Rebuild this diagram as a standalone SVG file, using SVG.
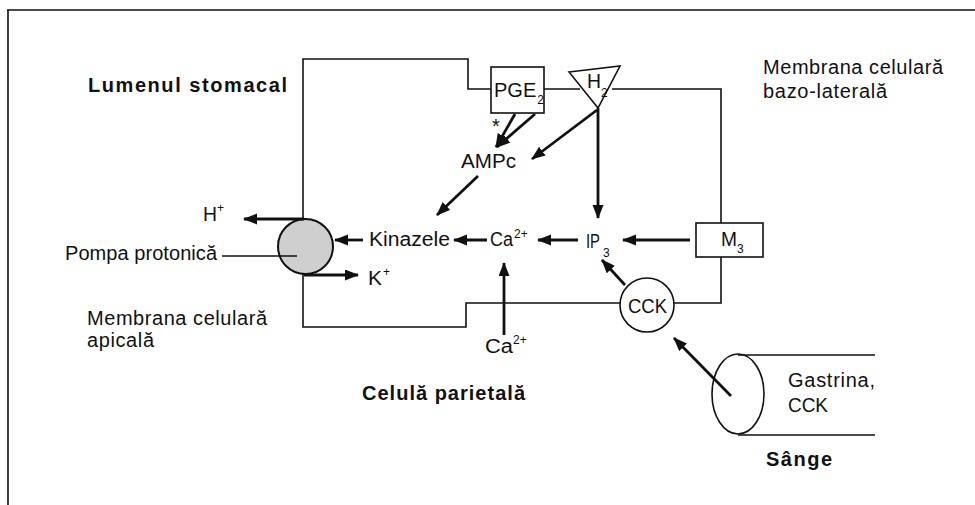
<svg xmlns="http://www.w3.org/2000/svg" width="975" height="505" viewBox="0 0 975 505">
<style>
text{font-family:"Liberation Sans",Arial,sans-serif;fill:#111;font-size:20px}
.b{font-weight:bold}
.sub{font-size:12px}
.thin{fill:none;stroke:#111;stroke-width:1.6}
.arr{fill:none;stroke:#111;stroke-width:2.8;marker-end:url(#ah)}
</style>
<defs>
<marker id="ah" markerUnits="userSpaceOnUse" markerWidth="14" markerHeight="12" refX="13" refY="5.5" orient="auto">
<path d="M0,0 L14,5.5 L0,11 z" fill="#111"/>
</marker>
</defs>
<rect width="975" height="505" fill="#fff"/>
<g id="frame">
<path class="thin" d="M7,10 L975,10 M8,10 L8,505" stroke-width="2"/>
</g>
<g id="cell">
<path class="thin" d="M491,89 L468,89 L468,59 L303,59 L303,219 M303,274 L303,327 L466,327 L466,303 L620,303 M673,303 L721,303 L721,257 M721,223 L721,89 L612,89 M580,89 L544,89"/>
</g>
<g id="labels">
<text class="b" x="88" y="92" textLength="199" lengthAdjust="spacing">Lumenul stomacal</text>
<text x="763" y="74" textLength="180" lengthAdjust="spacing">Membrana celulară</text>
<text x="763" y="98" textLength="124" lengthAdjust="spacing">bazo-laterală</text>
<text x="87" y="325" textLength="180" lengthAdjust="spacing">Membrana celulară</text>
<text x="87" y="347" textLength="67" lengthAdjust="spacing">apicală</text>
<text class="b" x="362" y="400" textLength="163" lengthAdjust="spacing">Celulă parietală</text>
<text class="b" x="766" y="466" textLength="66" lengthAdjust="spacing">Sânge</text>
</g>
<g id="pge2">
<rect x="491" y="67" width="53" height="46" fill="#fff" stroke="#111" stroke-width="1.6"/>
<text x="494" y="97" font-size="17">PGE<tspan class="sub" dx="1" dy="7">2</tspan></text>
</g>
<g id="h2">
<path d="M569,72 L620,66 L598,108 z" fill="#fff" stroke="#111" stroke-width="1.6"/>
<text x="587" y="88" textLength="14" lengthAdjust="spacingAndGlyphs">H</text>
<text class="sub" x="601" y="97">2</text>
</g>
<g id="ampc">
<text x="461" y="168" textLength="55" lengthAdjust="spacingAndGlyphs">AMPc</text>
<text x="492" y="133" font-size="14">*</text>
</g>
<g id="kinazele">
<text x="369" y="246" textLength="81" lengthAdjust="spacingAndGlyphs">Kinazele</text>
</g>
<g id="ca-in">
<text x="490" y="246" textLength="23" lengthAdjust="spacingAndGlyphs">Ca</text>
<text class="sub" x="514" y="238">2+</text>
</g>
<g id="ip3">
<text x="586" y="248" textLength="14" lengthAdjust="spacingAndGlyphs">IP</text>
<text class="sub" x="603" y="257">3</text>
</g>
<g id="m3">
<rect x="696" y="223" width="67" height="34" fill="#fff" stroke="#111" stroke-width="1.6"/>
<text x="721" y="246" textLength="16" lengthAdjust="spacingAndGlyphs">M</text>
<text class="sub" x="737" y="253">3</text>
</g>
<g id="cck">
<circle cx="647" cy="305" r="27" fill="#fff" stroke="#111" stroke-width="1.6"/>
<text x="628" y="313" textLength="39" lengthAdjust="spacingAndGlyphs">CCK</text>
</g>
<g id="pompa">
<circle cx="305.5" cy="246.5" r="27.5" fill="#cfcfcf" stroke="#111" stroke-width="2"/>
<text x="65" y="260" textLength="152" lengthAdjust="spacing">Pompa protonică</text>
<path class="thin" d="M222,256 L297,256" stroke-width="1.2"/>
</g>
<g id="hplus">
<text x="203" y="221" textLength="14" lengthAdjust="spacingAndGlyphs">H</text>
<text class="sub" x="217" y="212">+</text>
</g>
<g id="kplus">
<text x="368" y="285" textLength="14" lengthAdjust="spacingAndGlyphs">K</text>
<text class="sub" x="383" y="276">+</text>
</g>
<g id="ca-out">
<text x="485" y="353" textLength="28" lengthAdjust="spacingAndGlyphs">Ca</text>
<text class="sub" x="513" y="344">2+</text>
</g>
<g id="sange">
<ellipse cx="738" cy="394" rx="26" ry="40" fill="#fff" stroke="#111" stroke-width="1.6"/>
<path class="thin" d="M738,355 L875,355 M738,435 L875,435"/>
<text x="788" y="387" textLength="87" lengthAdjust="spacing">Gastrina,</text>
<text x="788" y="412" textLength="40" lengthAdjust="spacingAndGlyphs">CCK</text>
</g>
<g id="connectors">
<path class="arr" d="M515,114 L496,147"/>
<path class="arr" d="M535,114 L497,147"/>
<path class="arr" d="M597,110 L532,159"/>
<path class="arr" d="M598,108 L598,218"/>
<path class="arr" d="M478,176 L437,215"/>
<path class="arr" d="M690,240 L623,240"/>
<path class="arr" d="M578,240 L538,240"/>
<path class="arr" d="M487,240 L454,240"/>
<path class="arr" d="M363,240 L335,240"/>
<path class="arr" d="M304,219 L244,219"/>
<path class="arr" d="M304,275 L358,275"/>
<path class="arr" d="M504,335 L504,263"/>
<path class="arr" d="M625,285 L602,260"/>
<path class="arr" d="M731,396 L674,338"/>
</g>
</svg>
